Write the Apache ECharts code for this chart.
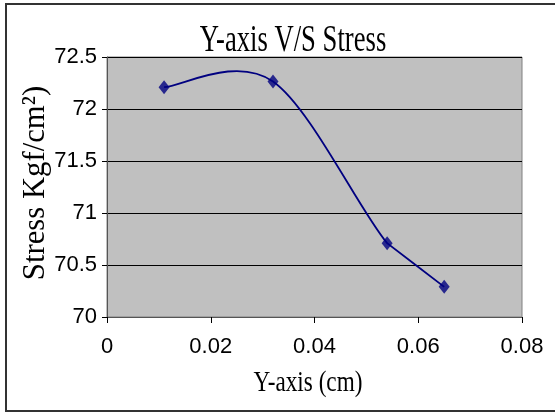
<!DOCTYPE html>
<html>
<head>
<meta charset="utf-8">
<script src="https://cdn.jsdelivr.net/npm/echarts@6/dist/echarts.min.js"></script>
<style>
html,body{margin:0;padding:0;background:#fff;}
#c{width:555px;height:413px;}
</style>
</head>
<body>
<div id="c"></div>
<script>
var titleText = 'Y-axis V/S Stress';
var xAxisName = 'Y-axis (cm)';
var yAxisName = 'Stress Kgf/cm\u00B2)';
var xValues = [0.011, 0.032, 0.054, 0.065];
var stressValues = [72.21, 72.265, 70.71, 70.29];
var xTicks = [0, 0.02, 0.04, 0.06, 0.08];
var yTicks = [70, 70.5, 71, 71.5, 72, 72.5];

var chart = echarts.init(document.getElementById('c'), null, {renderer: 'canvas'});
var pts = xValues.map(function (x, i) { return [x, stressValues[i]]; });

function dist(a, b) { return Math.sqrt((a[0] - b[0]) * (a[0] - b[0]) + (a[1] - b[1]) * (a[1] - b[1])); }

// Excel-style smoothed line: Bezier through the data points (pixel positions from the axes)
function renderSmooth(params, api) {
  if (params.dataIndex !== 0) return null;
  var p = pts.map(function (d) { return api.coord(d); });
  var n = p.length, f = 1 / 6;
  var path = 'M' + p[0][0] + ',' + p[0][1];
  for (var i = 0; i < n - 1; i++) {
    var p0 = p[Math.max(i - 1, 0)], p1 = p[i], p2 = p[i + 1], p3 = p[Math.min(i + 2, n - 1)];
    var d12 = dist(p1, p2), d02 = dist(p0, p2), d13 = dist(p1, p3);
    var c1x, c1y, c2x, c2y;
    if (d02 * f < d12 / 2 && d13 * f < d12 / 2) {
      c1x = p1[0] + (p2[0] - p0[0]) * f; c1y = p1[1] + (p2[1] - p0[1]) * f;
      c2x = p2[0] - (p3[0] - p1[0]) * f; c2y = p2[1] - (p3[1] - p1[1]) * f;
    } else {
      c1x = p1[0] + (p2[0] - p1[0]) * f; c1y = p1[1] + (p2[1] - p1[1]) * f;
      c2x = p2[0] - (p2[0] - p1[0]) * f; c2y = p2[1] - (p2[1] - p1[1]) * f;
    }
    path += ' C' + c1x + ',' + c1y + ' ' + c2x + ',' + c2y + ' ' + p2[0] + ',' + p2[1];
  }
  return {
    type: 'path',
    shape: {pathData: path},
    style: {fill: 'none', stroke: '#000080', lineWidth: 1.8}
  };
}

chart.setOption({
  animation: false,
  backgroundColor: '#ffffff',
  grid: {
    left: 107, right: 33, top: 57, bottom: 96,
    show: true, backgroundColor: '#c0c0c0', borderColor: '#808080', borderWidth: 1
  },
  xAxis: {
    type: 'value', min: xTicks[0], max: xTicks[xTicks.length - 1], interval: 0.02,
    axisLine: {show: true, onZero: false, lineStyle: {color: '#555', width: 1}},
    axisTick: {show: true, length: 6, lineStyle: {color: '#000'}},
    splitLine: {show: false},
    axisLabel: {
      margin: 19, color: '#000', fontFamily: 'Liberation Sans, Arial', fontSize: 22,
      formatter: function (v) { return String(+v.toFixed(2)); }
    }
  },
  yAxis: {
    type: 'value', min: yTicks[0], max: yTicks[yTicks.length - 1], interval: 0.5,
    axisLine: {show: true, lineStyle: {color: '#555', width: 1}},
    axisTick: {show: true, length: 5, lineStyle: {color: '#000'}},
    splitLine: {show: true, lineStyle: {color: '#000', width: 1}},
    axisLabel: {
      margin: 10, color: '#000', fontFamily: 'Liberation Sans, Arial', fontSize: 22,
      formatter: function (v) { return String(+v.toFixed(1)); }
    }
  },
  series: [
    {
      type: 'custom',
      name: 'Stress',
      data: pts,
      renderItem: renderSmooth,
      z: 2
    },
    {
      type: 'scatter',
      name: 'Stress',
      data: pts,
      symbol: 'diamond',
      symbolSize: [11, 14],
      itemStyle: {color: '#000080'},
      z: 3
    }
  ],
  graphic: [
    {
      type: 'rect', silent: true, z: -1,
      shape: {x: 6, y: 4, width: 552, height: 407},
      style: {fill: 'none', stroke: '#333', lineWidth: 2}
    },
    {
      type: 'text', x: 293, y: 41, scaleX: 0.72,
      style: {
        text: titleText, fill: '#000', fontFamily: 'Liberation Serif, Times New Roman',
        fontSize: 37, textAlign: 'center', textVerticalAlign: 'middle'
      }
    },
    {
      type: 'text', x: 308, y: 383, scaleX: 0.8,
      style: {
        text: xAxisName, fill: '#000', fontFamily: 'Liberation Serif, Times New Roman',
        fontSize: 29, textAlign: 'center', textVerticalAlign: 'middle'
      }
    },
    {
      type: 'text', x: 36, y: 183, rotation: Math.PI / 2, scaleX: 0.96,
      style: {
        text: yAxisName, fill: '#000', fontFamily: 'Liberation Serif, Times New Roman',
        fontSize: 32, textAlign: 'center', textVerticalAlign: 'middle'
      }
    }
  ]
});
</script>
</body>
</html>
